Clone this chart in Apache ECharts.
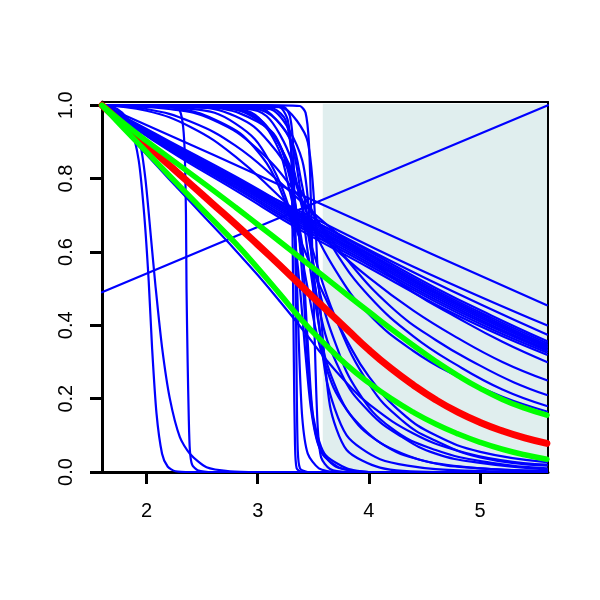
<!DOCTYPE html>
<html>
<head>
<meta charset="utf-8">
<script src="https://cdn.jsdelivr.net/npm/echarts@6/dist/echarts.min.js"></script>
<style>html,body{margin:0;padding:0;background:#fff}#c{width:600px;height:600px}</style>
</head>
<body>
<div id="c"></div>
<script>
// ---- tick labels ----
const xTicks = [2, 3, 4, 5];
const yTicks = [0, 0.2, 0.4, 0.6, 0.8, 1.0];
const yTickLabels = ['0.0', '0.2', '0.4', '0.6', '0.8', '1.0'];

// ---- shaded region [x0, y0, x1, y1] ----
const shadeRect = [[3.585, 0, 5.61, 1.004]];

// ---- highlighted curves ----
const redCurve = [[1.6,1],[1.8,0.946],[2.0,0.892],[2.2,0.838],[2.4,0.784],[2.6,0.73],[2.8,0.676],[3.0,0.62],[3.2,0.563],[3.4,0.505],[3.6,0.447],[3.8,0.39],[4.0,0.333],[4.2,0.282],[4.4,0.237],[4.6,0.197],[4.8,0.163],[5.0,0.135],[5.2,0.112],[5.4,0.093],[5.6,0.078]];
const greenUpper = [[1.6,1],[1.8,0.95],[2.0,0.903],[2.2,0.858],[2.4,0.813],[2.6,0.768],[2.8,0.722],[3.0,0.675],[3.2,0.628],[3.4,0.58],[3.6,0.532],[3.8,0.484],[4.0,0.437],[4.2,0.39],[4.4,0.345],[4.6,0.302],[4.8,0.263],[5.0,0.228],[5.2,0.198],[5.4,0.174],[5.6,0.155]];
const greenLower = [[1.6,1],[1.8,0.936],[2.0,0.873],[2.2,0.81],[2.4,0.748],[2.6,0.686],[2.8,0.624],[3.0,0.556],[3.2,0.485],[3.4,0.413],[3.6,0.35],[3.8,0.292],[4.0,0.243],[4.2,0.2],[4.4,0.163],[4.6,0.131],[4.8,0.104],[5.0,0.081],[5.2,0.062],[5.4,0.047],[5.6,0.035]];

// ---- blue curves ----
const blueRising = [[1.6,0.49],[5.61,1.0]];
const blueF1 = [[1.6,1],[2.6,0.865],[3.6,0.727],[4.6,0.59],[5.6,0.455]];
const blueF2 = [[1.6,1],[2.5,0.845],[3.4,0.708],[4.4,0.56],[5.6,0.40]];
const blueF3 = [[1.6,1],[2.5,0.84],[3.4,0.70],[4.5,0.53],[5.6,0.375]];
const blueB1 = [[1.6,1],[2.2,0.903],[2.8,0.806],[3.4,0.702],[4.0,0.602],[4.6,0.502],[5.1,0.427],[5.6,0.357]];
const blueB2 = [[1.6,1],[2.2,0.9],[2.8,0.801],[3.4,0.696],[4.0,0.596],[4.6,0.496],[5.1,0.421],[5.6,0.352]];
const blueB3 = [[1.6,1],[2.2,0.897],[2.8,0.797],[3.4,0.691],[4.0,0.591],[4.6,0.491],[5.1,0.416],[5.6,0.347]];
const blueB4 = [[1.6,1],[2.2,0.894],[2.8,0.793],[3.4,0.686],[4.0,0.586],[4.6,0.486],[5.1,0.411],[5.6,0.343]];
const blueB5 = [[1.6,1],[2.2,0.891],[2.8,0.789],[3.4,0.681],[4.0,0.581],[4.6,0.481],[5.1,0.406],[5.6,0.339]];
const blueB6 = [[1.6,1],[2.2,0.888],[2.8,0.784],[3.4,0.676],[4.0,0.576],[4.6,0.476],[5.1,0.401],[5.6,0.335]];
const blueB7 = [[1.6,1],[2.2,0.885],[2.8,0.779],[3.4,0.67],[4.0,0.57],[4.6,0.47],[5.1,0.396],[5.6,0.331]];
const blueB8 = [[1.6,1],[2.2,0.881],[2.8,0.774],[3.4,0.664],[4.0,0.564],[4.6,0.464],[5.1,0.39],[5.6,0.326]];
const blueB9 = [[1.6,1],[2.2,0.877],[2.8,0.768],[3.4,0.657],[4.0,0.557],[4.6,0.457],[5.1,0.384],[5.6,0.32]];
const blueG1 = [[1.6,1],[2.0,0.99],[2.4,0.955],[2.8,0.89],[3.2,0.79],[3.6,0.68],[4.0,0.58],[4.4,0.49],[4.8,0.42],[5.2,0.355],[5.6,0.30]];
const blueG2 = [[1.6,1],[2.0,0.985],[2.4,0.94],[2.8,0.86],[3.2,0.75],[3.6,0.635],[4.0,0.53],[4.4,0.44],[4.8,0.365],[5.2,0.30],[5.6,0.25]];
const blueG3 = [[1.6,1],[2.2,0.99],[2.6,0.96],[3.0,0.88],[3.4,0.74],[3.8,0.58],[4.2,0.45],[4.6,0.36],[5.0,0.29],[5.3,0.245],[5.6,0.21]];
const blueG4 = [[1.6,1],[2.4,0.995],[2.8,0.97],[3.1,0.9],[3.4,0.76],[3.7,0.6],[4.0,0.48],[4.4,0.37],[4.8,0.29],[5.2,0.225],[5.6,0.18]];
const blueG5 = [[1.6,1],[2.6,0.995],[3.0,0.96],[3.25,0.86],[3.45,0.7],[3.7,0.55],[4.0,0.43],[4.4,0.33],[4.8,0.26],[5.2,0.205],[5.6,0.165]];
const blueE1 = [[1.6,1],[2.4,0.99],[2.8,0.95],[3.1,0.85],[3.4,0.62],[3.6,0.48],[3.8,0.36],[4.0,0.26],[4.3,0.16],[4.6,0.1],[5.0,0.055],[5.6,0.027]];
const blueE2 = [[1.6,1],[2.6,0.995],[3.0,0.96],[3.3,0.82],[3.5,0.6],[3.7,0.42],[4.0,0.24],[4.3,0.14],[4.6,0.085],[5.0,0.04],[5.6,0.017]];
const blueE3 = [[1.6,1],[2.8,0.995],[3.2,0.95],[3.4,0.78],[3.55,0.45],[3.75,0.27],[4.0,0.165],[4.3,0.095],[4.6,0.05],[5.0,0.025],[5.6,0.007]];
const blueE4 = [[1.6,1],[3.0,0.995],[3.3,0.9],[3.45,0.6],[3.6,0.32],[3.8,0.17],[4.1,0.08],[4.5,0.03],[5.0,0.01],[5.6,0.002]];
const blueE5 = [[1.6,1],[3.1,0.99],[3.4,0.85],[3.5,0.55],[3.62,0.25],[3.8,0.1],[4.1,0.035],[4.6,0.008],[5.6,0]];
const blueE6 = [[1.6,1],[3.2,0.995],[3.45,0.9],[3.55,0.5],[3.65,0.18],[3.8,0.06],[4.1,0.012],[4.6,0],[5.6,0]];
const blueE7 = [[1.6,1],[2.8,0.99],[3.1,0.93],[3.3,0.75],[3.45,0.5],[3.6,0.3],[3.8,0.17],[4.1,0.08],[4.5,0.03],[5.0,0.01],[5.6,0.003]];
const blueE8 = [[1.6,1],[2.9,0.99],[3.2,0.92],[3.4,0.72],[3.55,0.5],[3.7,0.35],[3.9,0.22],[4.2,0.12],[4.6,0.06],[5.1,0.025],[5.6,0.01]];
const blueNearGreen = [[1.6,1],[1.8,0.933],[2.0,0.866],[2.2,0.8],[2.4,0.735],[2.6,0.67],[2.8,0.605],[3.0,0.537],[3.2,0.465],[3.4,0.39],[3.6,0.312],[3.8,0.243],[4.0,0.185],[4.4,0.105],[4.8,0.058],[5.2,0.032],[5.6,0.02]];
const blueD1 = [[1.6,1],[1.7,0.995],[1.78,0.98],[1.85,0.95],[1.93,0.85],[1.98,0.7],[2.02,0.52],[2.05,0.34],[2.09,0.16],[2.14,0.05],[2.19,0.015],[2.26,0.002],[2.4,0],[5.6,0]];
const blueD2 = [[1.6,1],[1.7,0.99],[1.8,0.97],[1.88,0.94],[1.94,0.9],[1.99,0.8],[2.04,0.64],[2.08,0.51],[2.14,0.34],[2.21,0.2],[2.3,0.095],[2.39,0.05],[2.54,0.013],[2.75,0.002],[3.0,0],[5.6,0]];
const blueD3 = [[1.6,1],[2.1,0.999],[2.25,0.995],[2.3,0.985],[2.33,0.94],[2.345,0.86],[2.355,0.7],[2.36,0.5],[2.37,0.3],[2.38,0.15],[2.39,0.06],[2.41,0.02],[2.46,0.005],[2.6,0],[5.6,0]];
const blueV1 = [[1.6,1],[3.0,1],[3.15,0.998],[3.22,0.99],[3.27,0.96],[3.3,0.88],[3.315,0.6],[3.325,0.3],[3.335,0.08],[3.35,0.01],[3.4,0],[5.6,0]];
const blueV2 = [[1.6,1],[3.1,1],[3.24,0.995],[3.29,0.97],[3.32,0.88],[3.34,0.55],[3.35,0.25],[3.36,0.06],[3.38,0.01],[3.45,0],[5.6,0]];
const blueV3 = [[1.6,1],[3.2,1],[3.38,0.998],[3.43,0.98],[3.46,0.9],[3.48,0.72],[3.5,0.5],[3.52,0.28],[3.54,0.12],[3.57,0.04],[3.65,0.008],[3.8,0],[5.6,0]];
const blueV4 = [[1.6,1],[2.9,0.999],[3.15,0.99],[3.25,0.96],[3.31,0.85],[3.345,0.6],[3.37,0.35],[3.4,0.15],[3.45,0.05],[3.55,0.01],[3.7,0],[5.6,0]];
const blueS1 = [[1.6,1],[2.2,0.995],[2.48,0.978],[2.84,0.924],[3.08,0.842],[3.23,0.75],[3.32,0.66],[3.38,0.5],[3.43,0.32],[3.48,0.17],[3.55,0.07],[3.7,0.015],[4.0,0],[5.6,0]];
const blueS2 = [[1.6,1],[2.5,0.998],[2.84,0.978],[3.14,0.924],[3.29,0.815],[3.36,0.68],[3.41,0.495],[3.45,0.3],[3.5,0.14],[3.58,0.05],[3.75,0.01],[4.0,0],[5.6,0]];
const blueS3 = [[1.6,1],[2.6,0.998],[2.9,0.98],[3.05,0.954],[3.2,0.89],[3.29,0.8],[3.35,0.708],[3.4,0.62],[3.42,0.515],[3.46,0.3],[3.5,0.15],[3.6,0.05],[3.8,0.01],[4.0,0],[5.6,0]];

// gentle curves (smoother spline) and sharp curves (tighter spline)
const blueGentle = [blueF1, blueF2, blueF3, blueB1, blueB2, blueB3, blueB4, blueB5, blueB6, blueB7, blueB8, blueB9,
  blueG1, blueG2, blueG3, blueG4, blueG5, blueE1, blueE2, blueE3, blueE7, blueE8, blueNearGreen];
const blueSharp = [blueE4, blueE5, blueE6, blueD1, blueD2, blueD3, blueV1, blueV2, blueV3, blueV4, blueS1, blueS2, blueS3];

const FONT = '"Liberation Sans", Arial, Helvetica, sans-serif';

function lineSeries(data, color, width, z, smooth) {
  return {
    type: 'line', data: data, showSymbol: false, symbol: 'none',
    smooth: smooth, z: z, silent: true, animation: false,
    lineStyle: { color: color, width: width, cap: 'round', join: 'round' }
  };
}

const series = [{
  type: 'custom', z: 1, silent: true, animation: false,
  data: shadeRect,
  encode: { x: [0, 2], y: [1, 3] },
  renderItem: function (params, api) {
    const p0 = api.coord([api.value(0), api.value(1)]);
    const p1 = api.coord([api.value(2), api.value(3)]);
    return { type: 'rect', shape: { x: p0[0], y: p1[1], width: p1[0] - p0[0], height: p0[1] - p1[1] },
      style: { fill: '#E0EEEE' } };
  }
}];
blueGentle.forEach(c => series.push(lineSeries(c, '#0000FF', 2.2, 2, 0.45)));
blueSharp.forEach(c => series.push(lineSeries(c, '#0000FF', 2.2, 2, 0.25)));
series.push(lineSeries(blueRising, '#0000FF', 2.2, 2, false));
series.push(lineSeries(redCurve, '#FF0000', 7, 3, 0.5));
series.push(lineSeries(greenUpper, '#00FF00', 5.5, 4, 0.5));
series.push(lineSeries(greenLower, '#00FF00', 5.5, 4, 0.5));

const chart = echarts.init(document.getElementById('c'), null, { renderer: 'canvas' });
chart.setOption({
  backgroundColor: '#ffffff',
  animation: false,
  grid: { left: 102, right: 52, top: 102, bottom: 128, containLabel: false },
  xAxis: [{
    type: 'value', min: 1.6, max: 5.61, position: 'bottom', z: 1.5,
    axisLine: { show: true, onZero: false, lineStyle: { color: '#000', width: 3 } },
    axisTick: { show: true, length: 12, customValues: xTicks, lineStyle: { color: '#000', width: 3 } },
    axisLabel: { customValues: xTicks, margin: 29, fontSize: 20, fontFamily: FONT, color: '#000' },
    splitLine: { show: false }
  }, {
    type: 'value', min: 1.6, max: 5.61, position: 'top', z: 1.5,
    axisLine: { show: true, onZero: false, lineStyle: { color: '#000', width: 2 } },
    axisTick: { show: false }, axisLabel: { show: false }, splitLine: { show: false }
  }],
  yAxis: [{
    type: 'value', min: 0, max: 1.009, position: 'left', z: 1.5,
    axisLine: { show: true, onZero: false, lineStyle: { color: '#000', width: 3 } },
    axisTick: { show: true, length: 12, customValues: yTicks, lineStyle: { color: '#000', width: 3 } },
    axisLabel: { customValues: yTicks, rotate: 90, margin: 26, fontSize: 20, fontFamily: FONT, color: '#000',
      formatter: function (v) { const i = yTicks.indexOf(v); return i >= 0 ? yTickLabels[i] : v.toFixed(1); } },
    splitLine: { show: false }
  }, {
    type: 'value', min: 0, max: 1.009, position: 'right', z: 1.5,
    axisLine: { show: true, onZero: false, lineStyle: { color: '#000', width: 2 } },
    axisTick: { show: false }, axisLabel: { show: false }, splitLine: { show: false }
  }],
  series: series
});
</script>
</body>
</html>
